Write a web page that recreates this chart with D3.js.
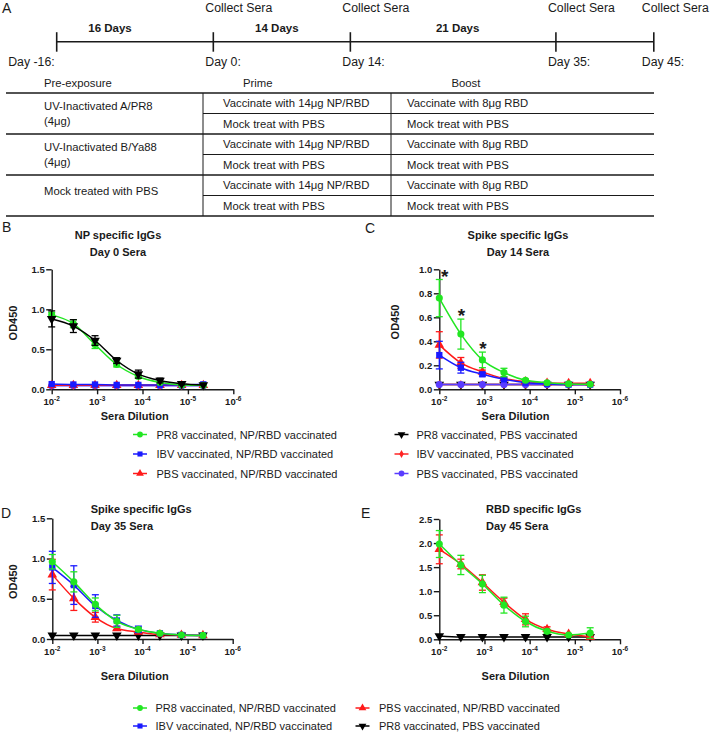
<!DOCTYPE html>
<html><head><meta charset="utf-8">
<script src="https://cdn.jsdelivr.net/npm/d3@7/dist/d3.min.js"></script>
<style>
html,body{margin:0;padding:0;background:#fff;}
svg{display:block;}
text{font-family:Arial,"Liberation Sans",Helvetica,sans-serif;fill:#1a1a1a;}
</style></head><body>
<svg id="fig" width="710" height="732"></svg>
<script>
// ================= DATA =================
const dilutions = [1/100, 1/300, 1/900, 1/2700, 1/8100, 1/24300, 1/72900, 1/218700];
const xTickValues = [1e-2, 1e-3, 1e-4, 1e-5, 1e-6];
const xTickExponents = ["-2", "-3", "-4", "-5", "-6"];

const timelineDays = [-16, 0, 14, 35, 45];
const timelineDayLabels = ["Day -16:", "Day 0:", "Day 14:", "Day 35:", "Day 45:"];
const collectSeraDays = [0, 14, 35, 45];
const intervalLabels = ["16 Days", "14 Days", "21 Days"];

const tableHeaders = ["Pre-exposure", "Prime", "Boost"];
const preExposureGroups = [["UV-Inactivated A/PR8", "(4μg)"], ["UV-Inactivated B/Ya88", "(4μg)"], ["Mock treated with PBS"]];
const primeTreatments = ["Vaccinate with 14μg NP/RBD", "Mock treat with PBS"];
const boostTreatments = ["Vaccinate with 8μg RBD", "Mock treat with PBS"];

const groupNames = ["PR8 vaccinated, NP/RBD vaccinated", "IBV vaccinated, NP/RBD vaccinated",
  "PBS vaccinated, NP/RBD vaccinated", "PR8 vaccinated, PBS vaccinated",
  "IBV vaccinated, PBS vaccinated", "PBS vaccinated, PBS vaccinated"];
const groupColors = ["#22e622", "#1a1aff", "#ff1a1a", "#000000", "#ff2424", "#5a3cff"];
const groupSymbols = ["circle", "square", "triangle", "triangleDown", "diamond", "circle"];

// Panel B: NP specific IgGs, Day 0 sera (mean, SD)
const npD0_PR8_NP = [0.93, 0.82, 0.56, 0.31, 0.16, 0.085, 0.055, 0.05];
const npD0_PR8_NP_sd = [0.03, 0.05, 0.05, 0.03, 0.02, 0.01, 0.005, 0.005];
const npD0_IBV_NP = [0.065, 0.06, 0.06, 0.055, 0.055, 0.055, 0.055, 0.062];
const npD0_IBV_NP_sd = [0.01, 0.005, 0.005, 0.005, 0.005, 0.005, 0.005, 0.01];
const npD0_PBS_NP = [0.05, 0.05, 0.05, 0.05, 0.05, 0.05, 0.05, 0.05];
const npD0_PBS_NP_sd = [0.005, 0.005, 0.005, 0.005, 0.005, 0.005, 0.005, 0.005];
const npD0_PR8_PBS = [0.88, 0.79, 0.61, 0.36, 0.19, 0.11, 0.07, 0.055];
const npD0_PR8_PBS_sd = [0.10, 0.08, 0.06, 0.035, 0.05, 0.03, 0.015, 0.01];
const npD0_IBV_PBS = [0.05, 0.05, 0.05, 0.05, 0.05, 0.05, 0.05, 0.05];
const npD0_IBV_PBS_sd = [0.005, 0.005, 0.005, 0.005, 0.005, 0.005, 0.005, 0.005];
const npD0_PBS_PBS = [0.045, 0.045, 0.045, 0.045, 0.045, 0.045, 0.045, 0.045];
const npD0_PBS_PBS_sd = [0.004, 0.004, 0.004, 0.004, 0.004, 0.004, 0.004, 0.004];

// Panel C: Spike specific IgGs, Day 14 sera
const spD14_PR8_NP = [0.76, 0.46, 0.245, 0.14, 0.075, 0.055, 0.045, 0.042];
const spD14_PR8_NP_sd = [0.155, 0.125, 0.065, 0.035, 0.01, 0.005, 0.004, 0.003];
const spD14_IBV_NP = [0.285, 0.18, 0.125, 0.083, 0.055, 0.045, 0.04, 0.04];
const spD14_IBV_NP_sd = [0.115, 0.045, 0.015, 0.01, 0.005, 0.004, 0.003, 0.003];
const spD14_PBS_NP = [0.37, 0.22, 0.145, 0.09, 0.064, 0.052, 0.05, 0.05];
const spD14_PBS_NP_sd = [0.11, 0.045, 0.015, 0.01, 0.005, 0.004, 0.003, 0.003];
const spD14_PR8_PBS = [0.04, 0.04, 0.04, 0.04, 0.04, 0.04, 0.04, 0.04];
const spD14_PR8_PBS_sd = [0.003, 0.003, 0.003, 0.003, 0.003, 0.003, 0.003, 0.003];
const spD14_IBV_PBS = [0.04, 0.04, 0.04, 0.04, 0.04, 0.04, 0.04, 0.04];
const spD14_IBV_PBS_sd = [0.003, 0.003, 0.003, 0.003, 0.003, 0.003, 0.003, 0.003];
const spD14_PBS_PBS = [0.04, 0.04, 0.04, 0.04, 0.04, 0.04, 0.04, 0.04];
const spD14_PBS_PBS_sd = [0.003, 0.003, 0.003, 0.003, 0.003, 0.003, 0.003, 0.003];
const spD14_significant = [0, 1, 2];

// Panel D: Spike specific IgGs, Day 35 sera
const spD35_PR8_NP = [0.96, 0.71, 0.43, 0.22, 0.12, 0.07, 0.05, 0.045];
const spD35_PR8_NP_sd = [0.09, 0.125, 0.08, 0.075, 0.02, 0.01, 0.005, 0.005];
const spD35_IBV_NP = [0.89, 0.67, 0.41, 0.23, 0.12, 0.07, 0.05, 0.045];
const spD35_IBV_NP_sd = [0.2, 0.24, 0.14, 0.07, 0.04, 0.01, 0.005, 0.005];
const spD35_PBS_NP = [0.80, 0.505, 0.27, 0.13, 0.087, 0.055, 0.05, 0.045];
const spD35_PBS_NP_sd = [0.19, 0.15, 0.06, 0.015, 0.01, 0.005, 0.005, 0.004];
const spD35_PR8_PBS = [0.045, 0.045, 0.045, 0.045, 0.045, 0.045, 0.045, 0.045];
const spD35_PR8_PBS_sd = [0.003, 0.003, 0.003, 0.003, 0.003, 0.003, 0.003, 0.003];

// Panel E: RBD specific IgGs, Day 45 sera
const rbdD45_PR8_NP = [1.98, 1.545, 1.15, 0.71, 0.37, 0.166, 0.09, 0.13];
const rbdD45_PR8_NP_sd = [0.28, 0.2, 0.18, 0.165, 0.11, 0.04, 0.02, 0.11];
const rbdD45_PBS_NP = [1.87, 1.565, 1.18, 0.77, 0.415, 0.21, 0.11, 0.05];
const rbdD45_PBS_NP_sd = [0.3, 0.1, 0.16, 0.085, 0.115, 0.05, 0.02, 0.04];
const rbdD45_PR8_PBS = [0.07, 0.05, 0.05, 0.05, 0.05, 0.05, 0.05, 0.05];
const rbdD45_PR8_PBS_sd = [0.005, 0.004, 0.004, 0.004, 0.004, 0.004, 0.004, 0.004];

const yTicksB = [0, 0.5, 1.0, 1.5];
const yTicksC = [0, 0.2, 0.4, 0.6, 0.8, 1.0];
const yTicksD = [0, 0.5, 1.0, 1.5];
const yTicksE = [0, 0.5, 1.0, 1.5, 2.0, 2.5];

// ================= DRAWING =================
const svg = d3.select("#fig");
svg.append("rect").attr("width", 710).attr("height", 732).attr("fill", "#fff");
const INK = "#1a1a1a";

function txt(g, s, x, y, size, opts = {}) {
  return g.append("text").attr("x", x).attr("y", y).attr("font-size", size)
    .attr("font-weight", opts.bold ? "bold" : "normal")
    .attr("text-anchor", opts.anchor || "start").text(s);
}

// ---- Panel A: timeline ----
const A = svg.append("g");
txt(A, "A", 2, 13, 14);
const tx = d3.scaleLinear().domain([-16, 45]).range([56.7, 653.8]);
const lineY = 41.7;
A.append("line").attr("x1", tx(-16)).attr("x2", tx(45)).attr("y1", lineY).attr("y2", lineY)
  .attr("stroke", INK).attr("stroke-width", 1.6);
timelineDays.forEach((d, i) => {
  A.append("line").attr("x1", tx(d)).attr("x2", tx(d)).attr("y1", lineY - 9.5).attr("y2", lineY + 10)
    .attr("stroke", INK).attr("stroke-width", 1.6);
  if (i === 0) txt(A, timelineDayLabels[i], tx(d) - 2, 66, 12.3, { anchor: "end" });
  else txt(A, timelineDayLabels[i], tx(d) - (i === timelineDays.length - 1 ? 12 : 8), 66, 12.3);
});
collectSeraDays.forEach((d, i) => {
  txt(A, "Collect Sera", tx(d) - (i === collectSeraDays.length - 1 ? 12 : 8), 12, 12.3);
});
const intervalShift = [-25, -5, 4.5];
intervalLabels.forEach((s, i) => {
  const mid = (tx(timelineDays[i]) + tx(timelineDays[i + 1])) / 2 + intervalShift[i];
  txt(A, s, mid, 31.5, 11.5, { bold: true, anchor: "middle" });
});

// ---- table ----
const T = svg.append("g");
const tLeft = 6, tRight = 654, col1 = 203, col2 = 391;
const rowTop = 93, rowH = 20.5;
const tFont = 11.3;
txt(T, tableHeaders[0], 44, 87, tFont);
txt(T, tableHeaders[1], 243, 87, tFont);
txt(T, tableHeaders[2], 451.5, 87, tFont);
for (let r = 0; r <= 6; r++) {
  const yy = rowTop + r * rowH;
  const major = r % 2 === 0;
  T.append("line").attr("x1", major ? tLeft : col1).attr("x2", tRight).attr("y1", yy).attr("y2", yy)
    .attr("stroke", INK).attr("stroke-width", major ? 1.5 : 1);
}
[col1, col2].forEach(cx => T.append("line").attr("x1", cx).attr("x2", cx)
  .attr("y1", rowTop).attr("y2", rowTop + 6 * rowH).attr("stroke", INK).attr("stroke-width", 1));
preExposureGroups.forEach((lines, gi) => {
  const top = rowTop + gi * 2 * rowH;
  if (lines.length === 2) {
    txt(T, lines[0], 44, top + 0.32 * 2 * rowH + 4, tFont);
    txt(T, lines[1], 44, top + 0.68 * 2 * rowH + 4, tFont);
  } else {
    txt(T, lines[0], 44, top + 0.38 * 2 * rowH + 4, tFont);
  }
  [0, 1].forEach(k => {
    const cy = top + (k + 0.5) * rowH + 4;
    txt(T, primeTreatments[k], 223, cy, tFont);
    txt(T, boostTreatments[k], 407, cy, tFont);
  });
});

// ---- symbols ----
function symbolPath(kind, size) {
  const map = { circle: d3.symbolCircle, square: d3.symbolSquare, triangle: d3.symbolTriangle,
    triangleDown: d3.symbolTriangle, diamond: d3.symbolDiamond };
  return d3.symbol().type(map[kind]).size(size)();
}
function drawMarker(g, gi, x, y, size) {
  const kind = groupSymbols[gi];
  const s = size || (kind === "diamond" ? 24 : 40);
  g.append("path").attr("d", symbolPath(kind, s))
    .attr("transform", `translate(${x},${y})` + (kind === "triangleDown" ? " rotate(180)" : ""))
    .attr("fill", groupColors[gi]);
}

// ---- plot panels ----
function drawPanel(p) {
  const x = d3.scaleLog().domain([1e-2, 1e-6]).range([p.x0, p.x1]);
  const y = d3.scaleLinear().domain([0, p.yMax]).range([p.yb, p.yt]);
  const g = svg.append("g");

  const ya = g.append("g").attr("transform", `translate(${p.x0},0)`)
    .call(d3.axisLeft(y).tickValues(p.yTicks).tickFormat(d3.format(".1f")).tickSize(5.5).tickSizeOuter(0).tickPadding(1.5));
  ya.select(".domain").attr("stroke", INK).attr("stroke-width", 1.4);
  ya.selectAll(".tick line").attr("stroke", INK).attr("stroke-width", 1.4);
  ya.selectAll(".tick text").attr("font-size", 9.5).attr("font-weight", "bold").attr("fill", INK)
    .attr("font-family", "Arial, 'Liberation Sans', sans-serif");

  const xa = g.append("g").attr("transform", `translate(0,${p.yb})`)
    .call(d3.axisBottom(x).tickValues(xTickValues).tickFormat(() => "").tickSize(5).tickSizeOuter(0));
  xa.select(".domain").attr("stroke", INK).attr("stroke-width", 1.4);
  xa.selectAll(".tick line").attr("stroke", INK).attr("stroke-width", 1.4);
  xTickValues.forEach((v, i) => {
    const t = g.append("text").attr("x", x(v)).attr("y", p.yb + 16).attr("text-anchor", "middle")
      .attr("font-weight", "bold").attr("font-size", 9.5);
    t.append("tspan").text("10");
    t.append("tspan").attr("font-size", 6.5).attr("dy", -4).text(xTickExponents[i]);
  });

  txt(g, "Sera Dilution", p.xTitleX, p.xTitleY, 11, { bold: true, anchor: "middle" });
  if (p.yTitle) {
    g.append("text").attr("transform", `translate(${p.yTitleX},${p.yTitleY}) rotate(-90)`)
      .attr("text-anchor", "middle").attr("font-size", 11).attr("font-weight", "bold").text("OD450");
  }
  txt(g, p.title[0], p.titleX, p.titleY, 11, { bold: true, anchor: p.titleAnchor });
  txt(g, p.title[1], p.titleX, p.titleY + 17, 11, { bold: true, anchor: p.titleAnchor });

  const line = d3.line().x((d, i) => x(dilutions[i])).y(d => y(d)).curve(d3.curveMonotoneX);
  p.series.forEach(s => {
    const col = groupColors[s.g];
    g.append("path").attr("d", line(s.mean)).attr("fill", "none").attr("stroke", col).attr("stroke-width", 1.5);
    s.mean.forEach((m, i) => {
      const xx = x(dilutions[i]);
      const sd = s.sd[i];
      const y1 = y(m + sd), y2 = y(Math.max(0, m - sd));
      if (y2 - y1 > 2) {
        g.append("line").attr("x1", xx).attr("x2", xx).attr("y1", y1).attr("y2", y2).attr("stroke", col).attr("stroke-width", 1.3);
        [y1, y2].forEach(yc => g.append("line").attr("x1", xx - 3.5).attr("x2", xx + 3.5).attr("y1", yc).attr("y2", yc)
          .attr("stroke", col).attr("stroke-width", 1.3));
      }
      drawMarker(g, s.g, xx, y(m));
    });
  });
  if (p.stars) {
    const s = p.series.find(q => q.g === p.stars.g);
    p.stars.idx.forEach(i => {
      const xx = x(dilutions[i]) + (i === 0 ? 5.5 : 0.5);
      const top = y(s.mean[i] + s.sd[i]);
      txt(g, "*", xx, top + 3, 19, { anchor: "middle", bold: true });
    });
  }
}

drawPanel({
  x0: 51.7, x1: 233.3, yb: 389.3, yt: 269.3, yMax: 1.5, yTicks: yTicksB,
  title: ["NP specific IgGs", "Day 0 Sera"], titleX: 118, titleY: 239, titleAnchor: "middle",
  xTitleX: 134.7, xTitleY: 420, yTitle: true, yTitleX: 17, yTitleY: 323,
  series: [
    { g: 5, mean: npD0_PBS_PBS, sd: npD0_PBS_PBS_sd },
    { g: 4, mean: npD0_IBV_PBS, sd: npD0_IBV_PBS_sd },
    { g: 2, mean: npD0_PBS_NP, sd: npD0_PBS_NP_sd },
    { g: 1, mean: npD0_IBV_NP, sd: npD0_IBV_NP_sd },
    { g: 0, mean: npD0_PR8_NP, sd: npD0_PR8_NP_sd },
    { g: 3, mean: npD0_PR8_PBS, sd: npD0_PR8_PBS_sd }
  ]
});
drawPanel({
  x0: 439.3, x1: 620, yb: 389.3, yt: 269.3, yMax: 1.0, yTicks: yTicksC,
  title: ["Spike specific IgGs", "Day 14 Sera"], titleX: 518, titleY: 239, titleAnchor: "middle",
  xTitleX: 515.5, xTitleY: 420, yTitle: true, yTitleX: 399, yTitleY: 322,
  series: [
    { g: 3, mean: spD14_PR8_PBS, sd: spD14_PR8_PBS_sd },
    { g: 4, mean: spD14_IBV_PBS, sd: spD14_IBV_PBS_sd },
    { g: 5, mean: spD14_PBS_PBS, sd: spD14_PBS_PBS_sd },
    { g: 2, mean: spD14_PBS_NP, sd: spD14_PBS_NP_sd },
    { g: 1, mean: spD14_IBV_NP, sd: spD14_IBV_NP_sd },
    { g: 0, mean: spD14_PR8_NP, sd: spD14_PR8_NP_sd }
  ],
  stars: { g: 0, idx: spD14_significant }
});
drawPanel({
  x0: 52.3, x1: 232.7, yb: 639, yt: 518.3, yMax: 1.5, yTicks: yTicksD,
  title: ["Spike specific IgGs", "Day 35 Sera"], titleX: 90.7, titleY: 513.3, titleAnchor: "start",
  xTitleX: 134.7, xTitleY: 680, yTitle: true, yTitleX: 17, yTitleY: 581.7,
  series: [
    { g: 3, mean: spD35_PR8_PBS, sd: spD35_PR8_PBS_sd },
    { g: 2, mean: spD35_PBS_NP, sd: spD35_PBS_NP_sd },
    { g: 1, mean: spD35_IBV_NP, sd: spD35_IBV_NP_sd },
    { g: 0, mean: spD35_PR8_NP, sd: spD35_PR8_NP_sd }
  ]
});
drawPanel({
  x0: 439.3, x1: 620, yb: 639.3, yt: 519, yMax: 2.5, yTicks: yTicksE,
  title: ["RBD specific IgGs", "Day 45 Sera"], titleX: 486, titleY: 513.3, titleAnchor: "start",
  xTitleX: 515.5, xTitleY: 680, yTitle: false,
  series: [
    { g: 3, mean: rbdD45_PR8_PBS, sd: rbdD45_PR8_PBS_sd },
    { g: 2, mean: rbdD45_PBS_NP, sd: rbdD45_PBS_NP_sd },
    { g: 0, mean: rbdD45_PR8_NP, sd: rbdD45_PR8_NP_sd }
  ]
});

txt(svg, "B", 2, 232, 14);
txt(svg, "C", 365, 233, 14);
txt(svg, "D", 1, 518, 14);
txt(svg, "E", 361, 518, 14);

function legendItem(gi, sx, ty, textX) {
  const L = svg.append("g");
  L.append("line").attr("x1", sx - 7).attr("x2", sx + 7).attr("y1", ty).attr("y2", ty)
    .attr("stroke", groupColors[gi]).attr("stroke-width", 1.5);
  drawMarker(L, gi, sx, ty, groupSymbols[gi] === "diamond" ? 18 : 26);
  txt(L, groupNames[gi], textX, ty + 4, 11);
}
const legRowsTop = [434.5, 454, 473.5];
[0, 1, 2].forEach((gi, k) => legendItem(gi, 140, legRowsTop[k], 156.5));
[3, 4, 5].forEach((gi, k) => legendItem(gi, 401.5, legRowsTop[k], 416.5));
const legRowsBottom = [708, 726];
[0, 1].forEach((gi, k) => legendItem(gi, 140, legRowsBottom[k], 155.5));
[2, 3].forEach((gi, k) => legendItem(gi, 362.5, legRowsBottom[k], 379));
</script>
</body></html>
